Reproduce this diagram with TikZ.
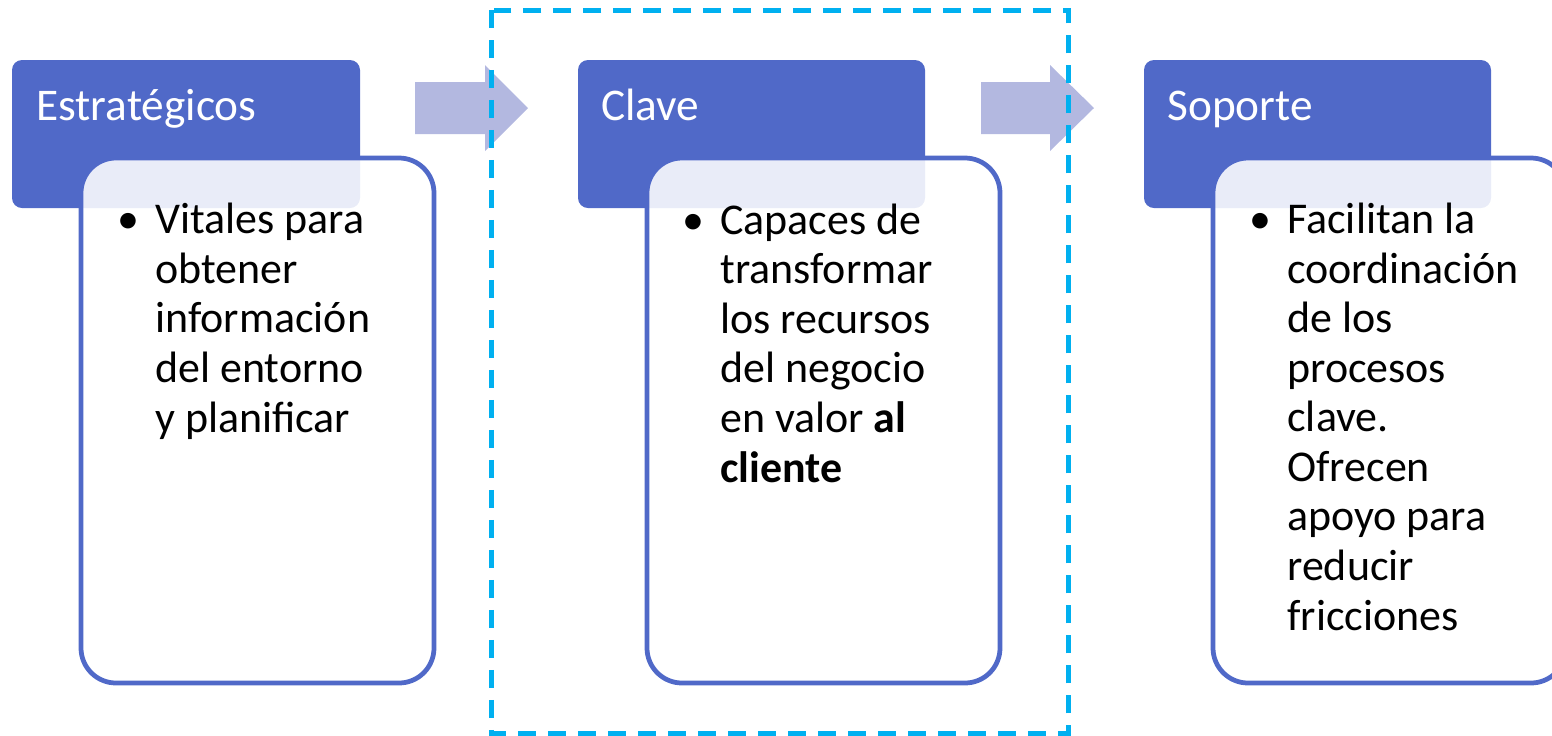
\documentclass[tikz,border=0pt]{standalone}
\usepackage{fontspec}
\setmainfont{Carlito}
\usepackage{tikz}

\definecolor{hdrblue}{RGB}{80,105,200}
\definecolor{arrowblue}{RGB}{179,184,224}
\definecolor{cyanline}{RGB}{0,176,240}

\begin{document}
\begin{tikzpicture}[x=0.02cm,y=-0.02cm,
    hdr/.style={fill=hdrblue, rounded corners=0.2cm},
    card/.style={draw=hdrblue, line width=0.095cm, fill=white, fill opacity=0.88, rounded corners=0.7cm},
    hdrtext/.style={anchor=base west, inner sep=0, text=white, font=\fontsize{25.8}{28.2}\selectfont},
    bodytext/.style={anchor=base west, inner sep=0, align=left, font=\fontsize{25}{28.2}\selectfont},
    flow/.style={fill=arrowblue}]
    \useasboundingbox (0,0) rectangle (1552,735);
    \clip (0,0) rectangle (1552,735);

    % Estrategicos (text node sits on its last baseline)
    \fill[hdr] (12,60) rectangle (360,208);
    \node[hdrtext] (h1) at (36,120) {Estratégicos};
    \draw[card] (81,158) rectangle (434,683);
    \node[bodytext] (b1) at (155,432) {\llap{\textbullet\hspace{0.32cm}}Vitales para\\obtener\\información\\del entorno\\y planificar};

    \fill[flow] (415,82) -- (485,82) -- (485,65) -- (528,108) -- (485,151) -- (485,134) -- (415,134) -- cycle;

    % Clave
    \fill[hdr] (578,60) rectangle (925,208);
    \node[hdrtext] (h2) at (601,120) {Clave};
    \draw[card] (647,158) rectangle (1000,683);
    \node[bodytext] (b2) at (720,482) {\llap{\textbullet\hspace{0.32cm}}Capaces de\\transformar\\los recursos\\del negocio\\en valor \textbf{al}\\\textbf{cliente}};

    \fill[flow] (981,82) -- (1050,82) -- (1050,65) -- (1094,108) -- (1050,151) -- (1050,134) -- (981,134) -- cycle;

    % Soporte
    \fill[hdr] (1144,60) rectangle (1491,208);
    \node[hdrtext] (h3) at (1167,120) {Soporte};
    \draw[card] (1213,158) rectangle (1566,683);
    \node[bodytext] (b3) at (1287,630) {\llap{\textbullet\hspace{0.32cm}}Facilitan la\\coordinación\\de los\\procesos\\clave.\\Ofrecen\\apoyo para\\reducir\\fricciones};

    \draw[cyanline, line width=0.1cm, dash pattern=on 0.36cm off 0.24cm] (491,10) rectangle (1068,733);
\end{tikzpicture}
\end{document}
